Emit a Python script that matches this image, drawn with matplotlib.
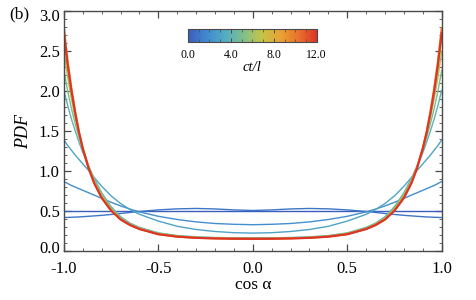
import matplotlib
matplotlib.use("Agg")
import matplotlib.pyplot as plt
import matplotlib.ticker as ticker
import numpy as np
from matplotlib.colors import LinearSegmentedColormap, Normalize
from matplotlib.cm import ScalarMappable
from matplotlib.transforms import ScaledTranslation

plt.rcParams.update(
    {
        "font.family": "Liberation Serif",
        "font.size": 12,
        "axes.unicode_minus": False,
    }
)

# ---------------------------------------------------------------------------
# Data (curves are symmetric about cos a = 0)
# ---------------------------------------------------------------------------

cos_half = [-1.0, -0.98, -0.96, -0.94, -0.92, -0.90, -0.87, -0.84, -0.80, -0.75,
            -0.70, -0.65, -0.60, -0.50, -0.40, -0.30, -0.20, -0.10, 0.0]

times = [0, 1, 2, 3, 4, 5, 6, 8, 10, 12]

pdf_t0 = [0.5] * 19
pdf_t1 = [0.42, 0.421, 0.423, 0.425, 0.427, 0.43, 0.435, 0.44, 0.447, 0.458,
          0.47, 0.483, 0.495, 0.515, 0.528, 0.533, 0.527, 0.515, 0.508]
pdf_t2 = [0.87, 0.845, 0.82, 0.80, 0.78, 0.76, 0.73, 0.70, 0.66, 0.61,
          0.565, 0.525, 0.49, 0.435, 0.395, 0.365, 0.345, 0.335, 0.33]
pdf_t3 = [1.39, 1.32, 1.26, 1.20, 1.145, 1.09, 1.01, 0.92, 0.81, 0.69,
          0.595, 0.52, 0.46, 0.375, 0.31, 0.27, 0.245, 0.23, 0.225]
pdf_t4 = [2.01, 1.82, 1.65, 1.50, 1.36, 1.23, 1.06, 0.91, 0.73, 0.555,
          0.43, 0.35, 0.297, 0.228, 0.194, 0.178, 0.17, 0.166, 0.165]
pdf_t5 = [2.26, 2.0, 1.78, 1.59, 1.42, 1.27, 1.07, 0.90, 0.715, 0.54,
          0.418, 0.342, 0.29, 0.223, 0.19, 0.174, 0.166, 0.162, 0.161]
pdf_t6 = [2.5, 2.17, 1.9, 1.66, 1.46, 1.29, 1.065, 0.88, 0.70, 0.527,
          0.408, 0.335, 0.284, 0.218, 0.186, 0.17, 0.163, 0.159, 0.158]
pdf_t8 = [2.65, 2.27, 1.96, 1.70, 1.475, 1.285, 1.05, 0.865, 0.68, 0.515,
          0.40, 0.33, 0.279, 0.214, 0.183, 0.167, 0.16, 0.156, 0.155]
pdf_t10 = [2.79, 2.37, 2.03, 1.74, 1.49, 1.29, 1.045, 0.853, 0.667, 0.507,
           0.397, 0.327, 0.277, 0.212, 0.181, 0.166, 0.159, 0.155, 0.154]
pdf_t12 = [2.73, 2.33, 2.0, 1.72, 1.48, 1.28, 1.04, 0.85, 0.665, 0.505,
           0.395, 0.325, 0.275, 0.21, 0.18, 0.165, 0.158, 0.154, 0.153]

pdf_curves = [pdf_t0, pdf_t1, pdf_t2, pdf_t3, pdf_t4, pdf_t5,
              pdf_t6, pdf_t8, pdf_t10, pdf_t12]

cbar_ticks = [0.0, 4.0, 8.0, 12.0]

# ---------------------------------------------------------------------------
# Style
# ---------------------------------------------------------------------------

CMAP = LinearSegmentedColormap.from_list(
    "rainbowish",
    ["#3a5cbc", "#4189cf", "#52acc4", "#7fbf8a", "#c3c449",
     "#e9a434", "#e9722c", "#dd3425"],
)
norm = Normalize(0, 12)
FRAME = "#4a4a4a"


def mirror(half):
    h = np.asarray(half, dtype=float)
    return np.concatenate([h, h[-2::-1]])


x_full = np.concatenate([np.asarray(cos_half), -np.asarray(cos_half)[-2::-1]])

fig = plt.figure(figsize=(4.77, 3.0), dpi=100)
ax = fig.add_axes([0.134, 0.163, 0.792, 0.8])

for t, half in zip(times, pdf_curves):
    lw = 1.5 if t >= 10 else 1.0
    ax.plot(x_full, mirror(half), color=CMAP(norm(t)), lw=lw,
            solid_capstyle="round")

ax.set_xlim(-1.0, 1.0)
ax.set_ylim(0.0, 3.0)
ax.xaxis.set_major_locator(ticker.MultipleLocator(0.5))
ax.xaxis.set_minor_locator(ticker.MultipleLocator(0.1))
ax.yaxis.set_major_locator(ticker.FixedLocator([0.0, 0.5, 1.0, 1.5, 2.0, 2.5, 3.0]))
ax.yaxis.set_minor_locator(ticker.MultipleLocator(0.1))
ax.xaxis.set_major_formatter(ticker.FormatStrFormatter("%.1f"))
ax.yaxis.set_major_formatter(ticker.FormatStrFormatter("%.1f"))
ax.tick_params(which="both", direction="in", top=True, right=True,
               color=FRAME, labelsize=12)
ax.tick_params(which="major", length=5, width=0.9)
ax.tick_params(which="minor", length=2.5, width=0.6)
ax.tick_params(axis="x", which="major", pad=7)
ax.tick_params(axis="y", which="major", pad=3)
for s in ax.spines.values():
    s.set_color(FRAME)
    s.set_linewidth(1.0)

# end labels are pulled inwards a bit in the original
ymaj = ax.yaxis.get_major_ticks()
up = ScaledTranslation(0, 3 / 72, fig.dpi_scale_trans)
down = ScaledTranslation(0, -3 / 72, fig.dpi_scale_trans)
ymaj[0].label1.set_transform(ymaj[0].label1.get_transform() + up)
ymaj[-1].label1.set_transform(ymaj[-1].label1.get_transform() + down)

ax.set_xlabel("cos α", fontsize=12.5, labelpad=0)
ax.set_ylabel("PDF", fontsize=13, style="italic", labelpad=5)
fig.text(0.02, 0.94, "(b)", fontsize=12.5)

# colour bar
cax = fig.add_axes([0.394, 0.86, 0.27, 0.043])
sm = ScalarMappable(norm=norm, cmap=CMAP)
cb = fig.colorbar(sm, cax=cax, orientation="horizontal", ticks=cbar_ticks)
cb.ax.xaxis.set_major_formatter(ticker.FormatStrFormatter("%.1f"))
cb.ax.xaxis.set_minor_locator(ticker.MultipleLocator(1.0))
cb.ax.tick_params(which="both", direction="in", top=True, color=FRAME,
                  labelsize=8.5, pad=5)
cb.ax.tick_params(which="major", length=3, width=0.7)
cb.ax.tick_params(which="minor", length=2, width=0.5)
cb.outline.set_edgecolor(FRAME)
cb.outline.set_linewidth(0.8)
cb.set_label("ct/l", fontsize=10.5, style="italic", labelpad=0)

fig.savefig("out.png", dpi=100)
